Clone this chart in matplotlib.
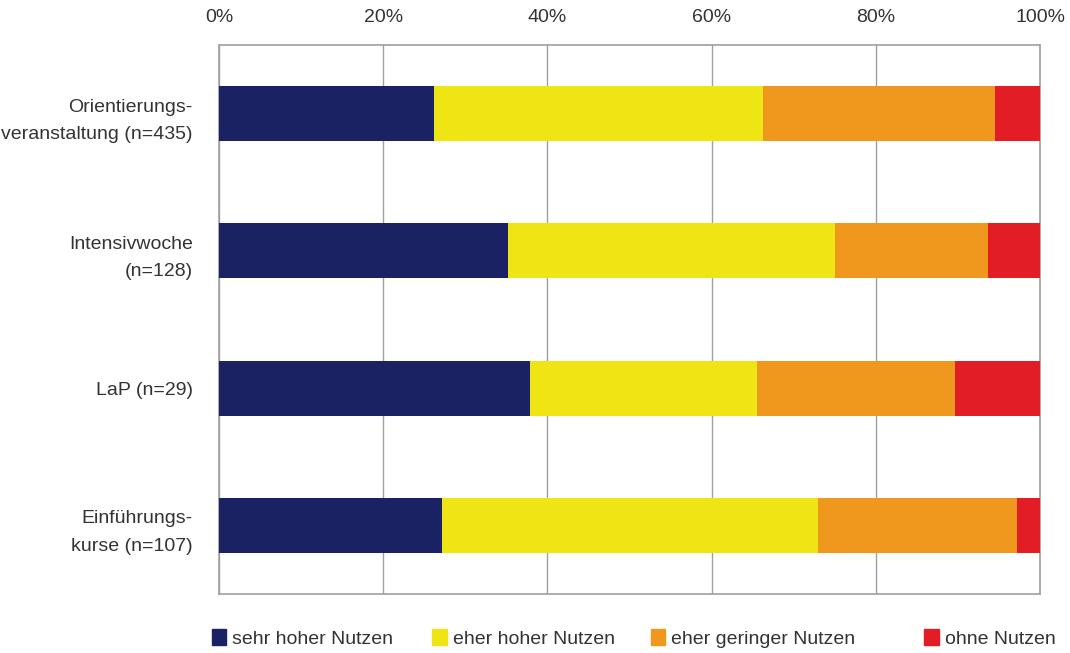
import numpy as np
import matplotlib
matplotlib.use("Agg")
import matplotlib.pyplot as plt
from matplotlib.patches import Patch

# data (percent of respondents)
categories = ["Orientierungs-\nveranstaltung (n=435)", "Intensivwoche\n(n=128)",
              "LaP (n=29)", "Einführungs-\nkurse (n=107)"]
series_names = ["sehr hoher Nutzen", "eher hoher Nutzen", "eher geringer Nutzen", "ohne Nutzen"]
sehr_hoch = [26.2, 35.2, 37.9, 27.1]
eher_hoch = [40.0, 39.8, 27.6, 45.8]
eher_gering = [28.3, 18.7, 24.1, 24.3]
ohne = [5.5, 6.3, 10.4, 2.8]
colors = ["#1b2263", "#f0e514", "#f0981e", "#e21d25"]
xticks = [0, 20, 40, 60, 80, 100]

plt.rcParams['font.family'] = ['Liberation Sans', 'DejaVu Sans']

fig = plt.figure(figsize=(10.7, 6.53), dpi=100)
ax = fig.add_axes([0.2047, 0.0904, 0.7673, 0.8406])

y = np.arange(len(categories))
left = np.zeros(len(categories))
for vals, name, col in zip([sehr_hoch, eher_hoch, eher_gering, ohne], series_names, colors):
    ax.barh(y, vals, left=left, height=0.4, color=col, label=name, zorder=3)
    left += np.array(vals)

ax.set_xlim(0, 100)
ax.set_ylim(len(categories) - 0.5, -0.5)
ax.set_yticks(y)
ax.set_yticklabels(categories, fontsize=14, color="#333333", linespacing=1.8)
ax.set_xticks(xticks)
ax.set_xticklabels([f"{t}%" for t in xticks], fontsize=14, color="#333333")
ax.xaxis.tick_top()
ax.tick_params(axis="x", length=0, pad=14)
ax.tick_params(axis="y", length=0, pad=19)
ax.grid(axis="x", color="#a0a0a0", linewidth=1.0, zorder=0)
for s in ax.spines.values():
    s.set_color("#a0a0a0")
    s.set_linewidth(1.2)

# legend entries sit at uneven positions along the bottom
legend_x = [0.198, 0.404, 0.608, 0.864]
for name, col, lx in zip(series_names, colors, legend_x):
    fig.legend(handles=[Patch(color=col)], labels=[name], loc="center left",
               bbox_to_anchor=(lx, 0.022), frameon=False, fontsize=14,
               handlelength=0.75, handleheight=0.9, handletextpad=0.3,
               borderpad=0, borderaxespad=0, labelcolor="#333333")

fig.savefig("out.png", dpi=100)
